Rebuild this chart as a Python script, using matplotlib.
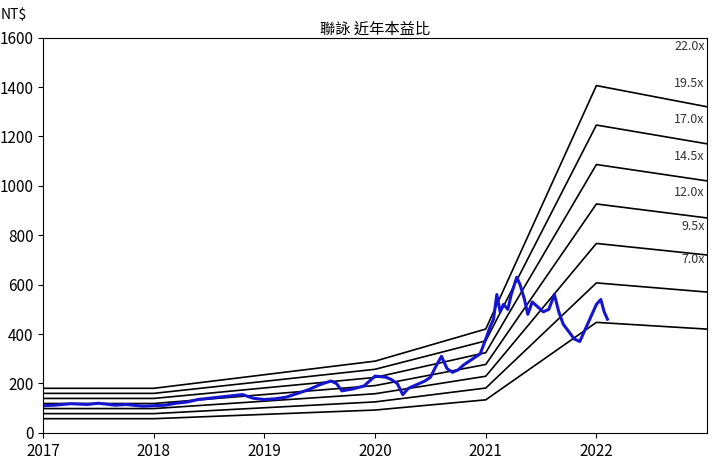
import matplotlib
matplotlib.use("Agg")
import matplotlib.pyplot as plt

plt.rcParams["font.family"] = ["Noto Sans CJK TC", "DejaVu Sans"]

title = "聯詠 近年本益比"
multiples = [7.0, 9.5, 12.0, 14.5, 17.0, 19.5, 22.0]
eps_years = [2017.0, 2018.0, 2020.0, 2021.0, 2022.0, 2023.0]
eps_values = [8.2, 8.2, 13.2, 19.1, 63.9, 60.0]
label_y = [700, 835, 975, 1120, 1270, 1415, 1565]

price_t = [2017.0, 2017.1, 2017.25, 2017.4, 2017.5, 2017.65, 2017.75, 2017.9, 2018.0, 2018.1, 2018.2,
           2018.3, 2018.4, 2018.5, 2018.6, 2018.7, 2018.8, 2018.9, 2019.0, 2019.1, 2019.2, 2019.3,
           2019.4, 2019.5, 2019.6, 2019.65, 2019.7, 2019.8, 2019.9, 2020.0, 2020.1, 2020.15,
           2020.2, 2020.25, 2020.3, 2020.35, 2020.45, 2020.5, 2020.55, 2020.6, 2020.65, 2020.7,
           2020.75, 2020.8, 2020.85, 2020.95, 2021.0, 2021.04, 2021.07, 2021.1, 2021.13, 2021.16,
           2021.2, 2021.23, 2021.28, 2021.31, 2021.35, 2021.38, 2021.42, 2021.47, 2021.52, 2021.57,
           2021.62, 2021.66, 2021.7, 2021.75, 2021.8, 2021.85, 2021.9, 2021.95, 2022.0, 2022.04,
           2022.07, 2022.1]
price_v = [110, 112, 118, 115, 120, 112, 115, 108, 110, 112, 120, 125, 135, 140, 145, 150, 155,
           140, 135, 138, 145, 160, 175, 195, 210, 200, 170, 178, 190, 230, 225, 215, 200, 155,
           180, 190, 210, 225, 270, 310, 260, 245, 255, 275, 290, 320, 380, 430, 460, 560, 490,
           520, 500, 560, 630, 600, 540, 480, 530, 510, 490, 500, 560, 490, 440, 410, 380, 370,
           420, 470, 520, 540, 490, 460]

fig, ax = plt.subplots(figsize=(7.2, 4.7), dpi=100)
fig.subplots_adjust(left=0.06, right=0.982, top=0.92, bottom=0.079)
for m, ly in zip(multiples, label_y):
    ax.plot(eps_years, [m * e for e in eps_values], color="black", lw=1.2)
    ax.text(2022.98, ly, f"{m:.1f}x", ha="right", va="center", fontsize=9, color="#333333")
ax.plot(price_t, price_v, color="#1515d0", lw=2.2)
ax.set_xlim(2017, 2023)
ax.set_ylim(0, 1600)
ax.set_xticks([2017, 2018, 2019, 2020, 2021, 2022])
ax.set_yticks(range(0, 1601, 200))
ax.tick_params(labelsize=11)
ax.set_title(title, fontsize=11, pad=-2)
ax.text(-0.045, 1.04, "NT$", transform=ax.transAxes, ha="center", va="bottom", fontsize=10)
fig.savefig("out.png")
